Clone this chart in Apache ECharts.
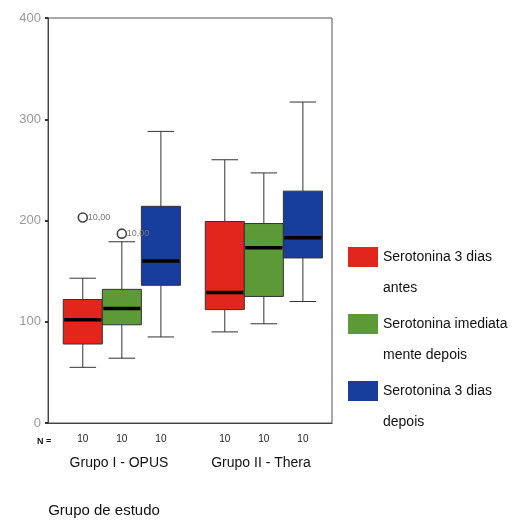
<!DOCTYPE html>
<html>
<head>
  <meta charset="utf-8">
  <title>Serotonina por grupo de estudo</title>
  <script src="https://cdn.jsdelivr.net/npm/echarts@6/dist/echarts.min.js"></script>
  <style>html,body{margin:0;padding:0;background:#fff;}</style>
</head>
<body>
  <div id="main" style="width:518px;height:523px;"></div>
  <script>
  // dados: [minimo, Q1, mediana, Q3, maximo] por grupo
  var grupos = ['Grupo I - OPUS', 'Grupo II - Thera'];
  var antes3dias = [[55, 78, 102, 122, 143], [90, 112, 129, 199, 260]];
  var imediatamente = [[64, 97, 113, 132, 179], [98, 125, 173, 197, 247]];
  var depois3dias = [[85, 136, 160, 214, 288], [120, 163, 183, 229, 317]];
  var nAmostra = [[10, 10], [10, 10], [10, 10]];
  // outliers: [grupo, serie, valor, rotulo]
  var outliers = [[0, 0, 203, '10,00'], [0, 1, 187, '10,00']];
  var nomes = ['Serotonina 3 dias antes', 'Serotonina imediatamente depois', 'Serotonina 3 dias depois'];
  var legendaTextos = ['Serotonina 3 dias\nantes', 'Serotonina imediata\nmente depois', 'Serotonina 3 dias\ndepois'];
  var cores = ['#e2261e', '#5b9a36', '#173e9c'];

  var chart = echarts.init(document.getElementById('main'));
  var todas = [antes3dias, imediatamente, depois3dias];

  // posicao da caixa dentro da faixa do grupo
  function centroCaixa(api, g, s) {
    var base = api.coord([g, 0]);
    var band = api.size([1, 0])[0];
    var bw = band * 0.275;
    return { x: base[0] + (s - 1) * bw + band * 0.02, y0: base[1], bw: bw };
  }

  function desenhaCaixa(s) {
    return function (params, api) {
      var g = api.value(0);
      var p = centroCaixa(api, g, s);
      var cx = p.x, bw = p.bw;
      var yMin = api.coord([g, api.value(1)])[1];
      var yQ1 = api.coord([g, api.value(2)])[1];
      var yMed = api.coord([g, api.value(3)])[1];
      var yQ3 = api.coord([g, api.value(4)])[1];
      var yMax = api.coord([g, api.value(5)])[1];
      var cap = bw * 0.68;
      var linha = { stroke: '#333', lineWidth: 1 };
      return {
        type: 'group',
        children: [
          { type: 'line', shape: { x1: cx, y1: yMax, x2: cx, y2: yQ3 }, style: linha },
          { type: 'line', shape: { x1: cx, y1: yQ1, x2: cx, y2: yMin }, style: linha },
          { type: 'line', shape: { x1: cx - cap / 2, y1: yMax, x2: cx + cap / 2, y2: yMax }, style: linha },
          { type: 'line', shape: { x1: cx - cap / 2, y1: yMin, x2: cx + cap / 2, y2: yMin }, style: linha },
          { type: 'rect', shape: { x: cx - bw / 2, y: yQ3, width: bw, height: yQ1 - yQ3 },
            style: { fill: api.visual('color'), stroke: '#333', lineWidth: 1 } },
          { type: 'line', shape: { x1: cx - bw / 2 + 1, y1: yMed, x2: cx + bw / 2 - 1, y2: yMed },
            style: { stroke: '#000', lineWidth: 3.5 } },
          { type: 'text', style: { text: String(api.value(6)), x: cx, y: p.y0 + 16, align: 'center',
            verticalAlign: 'middle', fontSize: 10, fill: '#222' } }
        ]
      };
    };
  }

  function desenhaOutlier(params, api) {
    var g = api.value(0), s = api.value(1);
    var p = centroCaixa(api, g, s);
    var y = api.coord([g, api.value(2)])[1];
    return {
      type: 'group',
      children: [
        { type: 'circle', shape: { cx: p.x, cy: y, r: 4.5 }, style: { fill: '#fff', stroke: '#444', lineWidth: 1.6 } },
        { type: 'text', style: { text: outliers[params.dataIndex][3], x: p.x + 5, y: y, verticalAlign: 'middle',
          fontSize: 9, fill: '#777' } }
      ]
    };
  }

  var series = todas.map(function (arr, s) {
    return {
      name: nomes[s],
      type: 'custom',
      itemStyle: { color: cores[s] },
      renderItem: desenhaCaixa(s),
      encode: { x: 0, y: [1, 2, 3, 4, 5] },
      data: grupos.map(function (nome, g) {
        return [g].concat(arr[g]).concat([nAmostra[s][g]]);
      }),
      z: 2
    };
  });
  series.push({
    name: 'Outliers',
    type: 'custom',
    renderItem: desenhaOutlier,
    encode: { x: 0, y: 2 },
    data: outliers.map(function (o) { return [o[0], o[1], o[2]]; }),
    z: 3
  });

  var option = {
    animation: false,
    textStyle: { fontFamily: 'Liberation Sans' },
    grid: { left: 48, top: 18, width: 284, height: 408, show: true, borderColor: '#555', borderWidth: 1 },
    legend: {
      orient: 'vertical',
      left: 343,
      top: 237,
      itemWidth: 30,
      itemHeight: 52,
      itemGap: 5,
      icon: 'path://M0,0h30v20h-30z M0,52h30',
      data: nomes,
      formatter: function (name) { return legendaTextos[nomes.indexOf(name)]; },
      textStyle: { fontSize: 14, lineHeight: 31, color: '#111' }
    },
    xAxis: {
      type: 'category',
      data: grupos,
      axisLine: { lineStyle: { color: '#444' } },
      axisTick: { alignWithLabel: true, length: 3, lineStyle: { color: '#555', width: 2 } },
      axisLabel: { margin: 33, fontSize: 14, color: '#111' },
      name: 'Grupo de estudo',
      nameLocation: 'middle',
      nameGap: 80,
      nameTextStyle: { fontSize: 15, color: '#111', padding: [0, 172, 0, 0] }
    },
    yAxis: {
      type: 'value',
      min: 0,
      max: 400,
      interval: 100,
      splitLine: { show: false },
      axisLine: { show: true, lineStyle: { color: '#444' } },
      axisTick: { show: true, length: 3, lineStyle: { color: '#333', width: 2 } },
      axisLabel: { color: '#9a9a9a', fontSize: 13, margin: 7 }
    },
    graphic: [{
      type: 'text', left: 37, top: 437,
      style: { text: 'N =', fontSize: 9, fontWeight: 'bold', fill: '#111' }
    }],
    series: series
  };

  chart.setOption(option);
  </script>
</body>
</html>
